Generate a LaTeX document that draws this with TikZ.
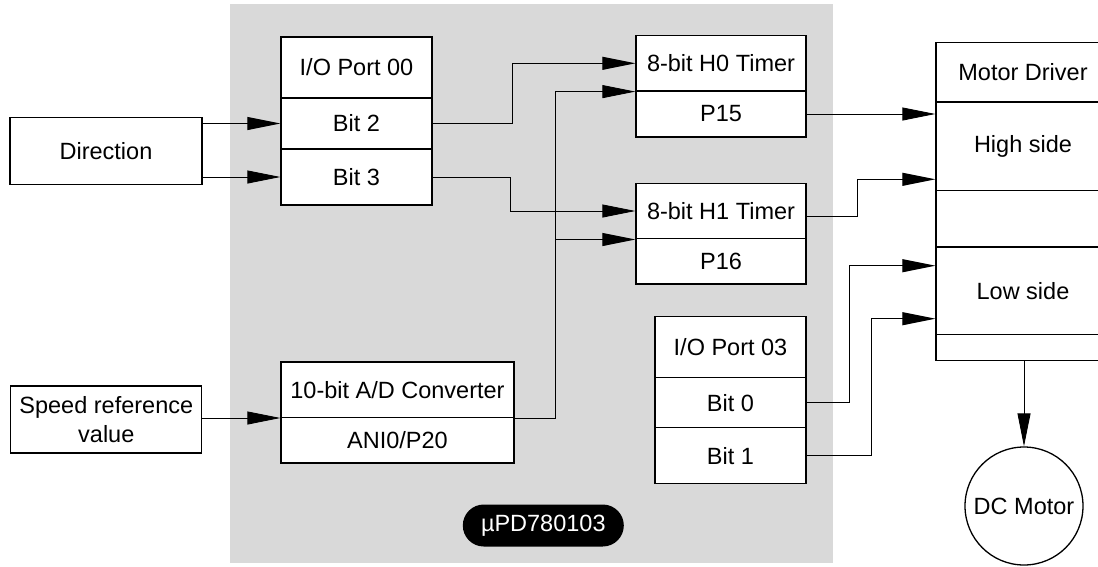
\documentclass[tikz,border=0pt]{standalone}
\usepackage{fontspec}
\setmainfont{Liberation Sans}
\usetikzlibrary{arrows.meta,calc}
\definecolor{chipgray}{RGB}{217,217,217}
\begin{document}
\begin{tikzpicture}[x=1pt,y=-1pt,
  font=\fontsize{23.5}{29}\selectfont,
  cell/.style={draw, line width=1.3pt, fill=white, inner sep=0pt, align=center},
  conn/.style={line width=0.9pt},
  arr/.style={conn, -{Triangle[length=33pt,width=13pt]}},
  pill/.style={fill=black, text=white, rounded corners=21pt, inner sep=0pt, minimum width=161pt, minimum height=42pt},
  motorc/.style={draw, circle, line width=1.3pt, fill=white, inner sep=0pt, minimum size=118pt}
]
\clip (0,0) rectangle (1098,566);
\fill[chipgray] (230,4) rectangle (833,563);

% external inputs
\node[cell, minimum width=192pt, minimum height=67pt] (dir) at (106,151.3) {Direction};
\node[cell, minimum width=191pt, minimum height=67pt] (spd) at (106.3,419.5) {Speed reference\\value};

% I/O Port 00
\node[cell, minimum width=151pt, minimum height=61pt] (p0h) at (356.5,67.5) {I/O Port 00};
\node[cell, minimum width=151pt, minimum height=51pt] (b2) at (356.5,123.5) {Bit 2};
\node[cell, minimum width=151pt, minimum height=56pt] (b3) at (356.5,177) {Bit 3};

% timers
\node[cell, minimum width=170pt, minimum height=55.3pt] (h0h) at (721,63.3) {8-bit H0 Timer};
\node[cell, minimum width=170pt, minimum height=45.7pt] (p15) at (721,114) {P15};
\node[cell, minimum width=170pt, minimum height=55.7pt] (h1h) at (721,211) {8-bit H1 Timer};
\node[cell, minimum width=170pt, minimum height=45.3pt] (p16) at (721,261.3) {P16};

% A/D converter
\node[cell, minimum width=233pt, minimum height=55.3pt] (adh) at (397.5,389.7) {10-bit A/D Converter};
\node[cell, minimum width=233pt, minimum height=45.7pt] (adp) at (397.5,440.2) {ANI0/P20};

% I/O Port 03
\node[cell, minimum width=151pt, minimum height=61.4pt] (p3h) at (730.5,347) {I/O Port 03};
\node[cell, minimum width=151pt, minimum height=50pt] (b0) at (730.5,402.7) {Bit 0};
\node[cell, minimum width=151pt, minimum height=56pt] (b1) at (730.5,455.7) {Bit 1};

% chip label
\node[pill] (chip) at (543.3,525.5) {µPD780103};

% motor driver
\node[cell, minimum width=174pt, minimum height=59.5pt] (mdh) at (1023,72.3) {Motor Driver};
\node[cell, minimum width=174pt, minimum height=88.7pt] (hs) at (1023,146.3) {High side};
\node[cell, minimum width=174pt, minimum height=56.3pt] (mdg) at (1023,218.8) {};
\node[cell, minimum width=174pt, minimum height=87.5pt] (ls) at (1023,290.7) {Low side};
\node[cell, minimum width=174pt, minimum height=25.8pt] (mdb) at (1023,347.4) {};

% DC motor
\node[motorc] (motor) at (1024,506) {DC Motor};

% connectors
\draw[arr] (dir.east |- b2.west) -- (b2.west);
\draw[arr] (dir.east |- b3.west) -- (b3.west);
\draw[arr] (b2.east) -- ++(80,0) |- (h0h.west);
\draw[arr] (b3.east) -- ++(78,0) |- (h1h.west);
\draw[arr] (spd.east |- adh.south west) -- (adh.south west);
\coordinate (adj) at ($(adh.south east)+(41,0)$);
\draw[arr] (adh.south east) -- (adj) |- (h0h.south west);
\draw[arr] (adj |- h1h.south west) -- (h1h.south west);
\draw[arr] (p15.east) -- (p15.east -| hs.west);
\draw[arr] ([yshift=-5pt]h1h.east) -- ++(51,0) |- ([yshift=-33pt]hs.west);
\draw[arr] (b0.east) -- ++(43,0) |- ([yshift=25pt]ls.west);
\draw[arr] (b1.east) -- ++(65,0) |- ([yshift=-28pt]ls.west);
\draw[arr] (mdb.south -| motor.north) -- (motor.north);
\end{tikzpicture}
\end{document}
